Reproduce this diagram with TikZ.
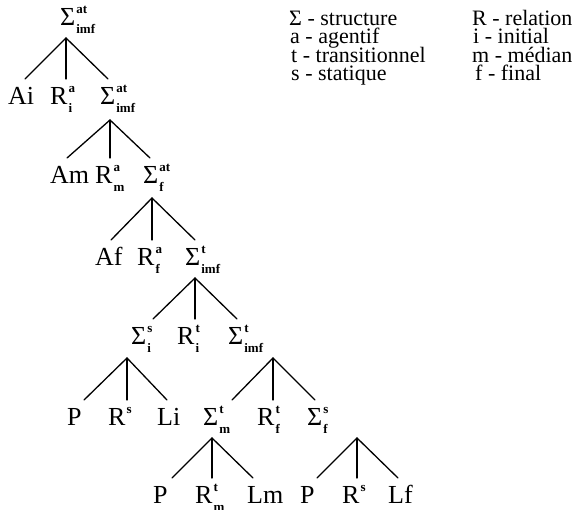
\documentclass[tikz,border=0pt]{standalone}
\usepackage{fontspec}
\setmainfont{Liberation Serif}
% small bold indices stacked to the right of a symbol
\newcommand\idxfont{\fontsize{13}{13}\selectfont\bfseries}
\newcommand\scr[2]{\kern1pt\ooalign{\raisebox{11.5pt}{\idxfont #1}\cr\raisebox{-8pt}{\idxfont #2}\cr}}
\tikzset{
  tnode/.style={anchor=base west, inner sep=0pt, font=\fontsize{26}{26}\selectfont},
  keynode/.style={anchor=base west, inner sep=0pt, font=\fontsize{22}{22}\selectfont},
  leg/.style={line width=1.3pt, line cap=round, line join=round}
}
\begin{document}
\begin{tikzpicture}[x=1pt, y=-1pt]
\useasboundingbox (0,0) rectangle (588,509);

% legend
\node[keynode] (k1) at (289,25)   {Σ - structure};
\node[keynode] (k2) at (290,43.5) {a - agentif};
\node[keynode] (k3) at (291,62)   {t - transitionnel};
\node[keynode] (k4) at (291,80.5) {s - statique};
\node[keynode] (k5) at (472,25)   {R - relation};
\node[keynode] (k6) at (473,43.5) {i - initial};
\node[keynode] (k7) at (472,62)   {m - médian};
\node[keynode] (k8) at (475,80.5) {f - final};

% tree, row by row
\node[tnode] (s0) at (60,25) {Σ\scr{at}{imf}};

\node[tnode] (ai) at (8,104)   {Ai};
\node[tnode] (ri) at (50,104)  {R\scr{a}{i}};
\node[tnode] (s1) at (100,104) {Σ\scr{at}{imf}};

\node[tnode] (am) at (50,183)  {Am};
\node[tnode] (rm) at (95,183)  {R\scr{a}{m}};
\node[tnode] (s2) at (143,183) {Σ\scr{at}{f}};

\node[tnode] (af) at (95,265)  {Af};
\node[tnode] (rf) at (137,265) {R\scr{a}{f}};
\node[tnode] (s3) at (185,265) {Σ\scr{t}{imf}};

\node[tnode] (s4)  at (131,344) {Σ\scr{s}{i}};
\node[tnode] (rti) at (177,344) {R\scr{t}{i}};
\node[tnode] (s5)  at (228,344) {Σ\scr{t}{imf}};

\node[tnode] (p1)  at (67,425)  {P};
\node[tnode] (rs1) at (108,425) {R\scr{s}{}};
\node[tnode] (li)  at (157,425) {Li};
\node[tnode] (s6)  at (203,425) {Σ\scr{t}{m}};
\node[tnode] (rtf) at (257,425) {R\scr{t}{f}};
\node[tnode] (s7)  at (307,425) {Σ\scr{s}{f}};

\node[tnode] (p2)  at (153,503) {P};
\node[tnode] (rtm) at (195,503) {R\scr{t}{m}};
\node[tnode] (lm)  at (247,503) {Lm};
\node[tnode] (p3)  at (300,503) {P};
\node[tnode] (rs2) at (342,503) {R\scr{s}{}};
\node[tnode] (lf)  at (388,503) {Lf};

% apex of each branching, just under its parent
\coordinate (t1)  at ([shift={(6,13)}]s0.base west);
\coordinate (t2)  at ([shift={(10,16)}]s1.base west);
\coordinate (t3)  at ([shift={(9,15)}]s2.base west);
\coordinate (t4)  at ([shift={(10,13)}]s3.base west);
\coordinate (t5a) at ([shift={(-4,14)}]s4.base west);
\coordinate (t5b) at ([shift={(45,14)}]s5.base west);
\coordinate (t6a) at ([shift={(9,13)}]s6.base west);
\coordinate (t6b) at ([shift={(50,13)}]s7.base west);

% branches down to the children
\foreach \a/\c/\d in {t1/ai/17, t1/ri/16, t1/s1/8,
                      t2/am/17, t2/rm/15, t2/s2/7,
                      t3/af/16, t3/rf/15, t3/s3/10,
                      t4/s4/22, t4/rti/18, t4/s5/9,
                      t5a/p1/17, t5a/rs1/19, t5a/li/10,
                      t5b/s6/29, t5b/rtf/16, t5b/s7/8,
                      t6a/p2/19, t6a/rtm/17, t6a/lm/6,
                      t6b/p3/17, t6b/rs2/15, t6b/lf/10}
  \draw[leg] (\a) -- ([shift={(\d,-25)}]\c.base west);
\end{tikzpicture}
\end{document}
